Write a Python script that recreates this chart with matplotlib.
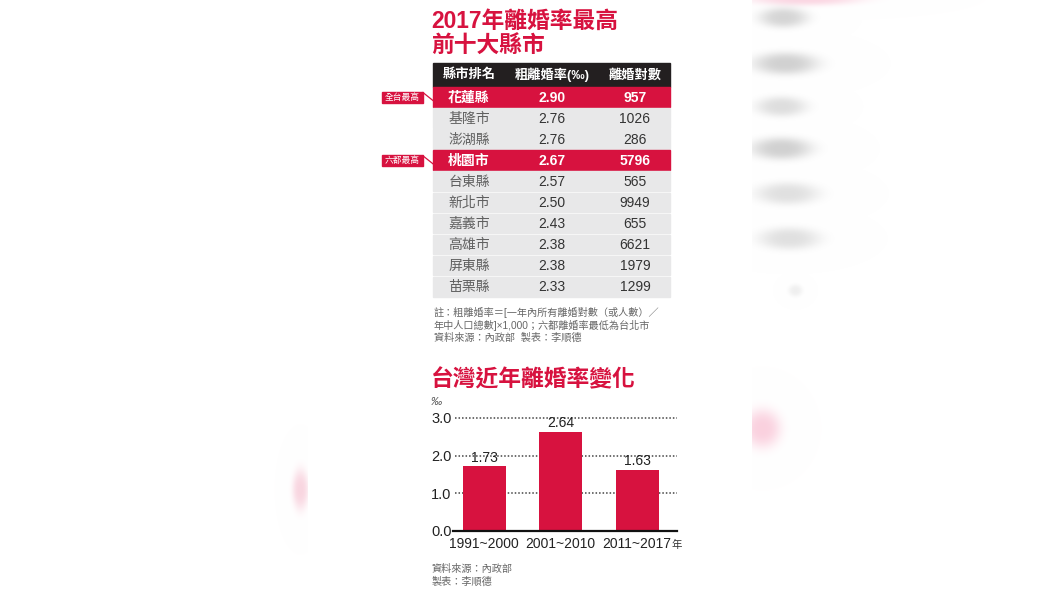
import numpy as np
import matplotlib.pyplot as plt
from matplotlib.patches import Rectangle

plt.rcParams['font.family'] = ['Liberation Sans', 'Noto Sans CJK TC', 'DejaVu Sans']

RED = '#d7123f'
GRAY_ROW = '#e8e8e9'

# table data
counties = ['花蓮縣', '基隆市', '澎湖縣', '桃園市', '台東縣',
            '新北市', '嘉義市', '高雄市', '屏東縣', '苗栗縣']
rates = [2.90, 2.76, 2.76, 2.67, 2.57, 2.50, 2.43, 2.38, 2.38, 2.33]
pairs = [957, 1026, 286, 5796, 565, 9949, 655, 6621, 1979, 1299]
header = ['縣市排名', '粗離婚率(‰)', '離婚對數']
callouts = {0: '全台最高', 3: '六都最高'}

# bar chart data
periods = ['1991~2000', '2001~2010', '2011~2017']
period_rates = [1.73, 2.64, 1.63]
yticks = [0.0, 1.0, 2.0, 3.0]

notes = ['註：粗離婚率＝[一年內所有離婚對數（或人數）／',
         '年中人口總數]×1,000；六都離婚率最低為台北市',
         '資料來源：內政部  製表：李順德']


def blurred_background(ax):
    # soft smudges of the blurred page showing at both sides
    blobs = [
        (783, 17, 24, 10, (0.82, 0.82, 0.82), 0.9),
        (785, 63, 32, 11, (0.80, 0.80, 0.80), 0.9),
        (781, 106, 25, 10, (0.84, 0.84, 0.84), 0.8),
        (781, 148, 30, 11, (0.80, 0.80, 0.80), 0.9),
        (787, 193, 31, 11, (0.85, 0.85, 0.85), 0.8),
        (789, 238, 30, 11, (0.85, 0.85, 0.85), 0.8),
        (795, 290, 7, 6, (0.90, 0.90, 0.90), 0.6),
        (762, 428, 18, 19, (0.98, 0.80, 0.86), 0.9),
        (805, -2, 55, 7, (0.98, 0.80, 0.86), 0.8),
        (300, 489, 8, 20, (0.97, 0.80, 0.85), 0.8),
    ]
    yy, xx = np.mgrid[0:596, 0:1060]
    img = np.ones((596, 1060, 4))
    for cx, cy, sx, sy, col, a in blobs:
        d = ((xx - cx) / sx) ** 2 + ((yy - cy) / sy) ** 2
        alpha = a * np.exp(-d ** 1.5)
        for c in range(3):
            img[..., c] -= alpha * (1 - col[c])
    img[..., :3] = np.clip(img[..., :3], 0, 1)
    # the blurred panels stop sharply at the edges of the graphic strip
    img[:, 308:752, 3] = 0
    ax.imshow(img, extent=(0, 1060, 596, 0), zorder=0, interpolation='nearest')


fig = plt.figure(figsize=(10.6, 5.96), dpi=100)
ax = fig.add_axes([0, 0, 1, 1])
ax.set_xlim(0, 1060)
ax.set_ylim(596, 0)
ax.axis('off')
blurred_background(ax)

# titles
ax.text(431, 21, '2017年離婚率最高', color=RED, fontsize=16.4, fontweight='bold', va='center')
ax.text(431, 46, '前十大縣市', color=RED, fontsize=16.4, fontweight='bold', va='center')

# table
left, right = 433, 670
col_x = [469, 552, 635]
head_top, head_bot = 63, 87
row_h = 21.1
ax.add_patch(Rectangle((left, head_top), right - left, head_bot - head_top,
                       color='#231f20', zorder=2))
for x, h in zip(col_x, header):
    ax.text(x, (head_top + head_bot) / 2, h, color='white', fontsize=9.5,
            fontweight='bold', ha='center', va='center', zorder=3)

for i, (name, r, n) in enumerate(zip(counties, rates, pairs)):
    top = head_bot + i * row_h
    yc = top + row_h / 2
    hot = i in callouts
    ax.add_patch(Rectangle((left, top), right - left, row_h - 1.5,
                           color=RED if hot else GRAY_ROW, zorder=2))
    kw = dict(ha='center', va='center', fontsize=10, zorder=3)
    if hot:
        kw.update(color='white', fontweight='bold')
        ax.text(col_x[0], yc, name, **kw)
        ax.text(col_x[1], yc, f'{r:.2f}', **kw)
        ax.text(col_x[2], yc, str(n), **kw)
        # callout tag on the left
        ax.add_patch(Rectangle((382, yc - 6), 41, 11.5, color=RED, zorder=2))
        ax.text(402.5, yc - 0.3, callouts[i], color='white', fontsize=6.3,
                ha='center', va='center', zorder=3)
        ax.plot([423, 433], [yc - 5, yc + 3], color=RED, lw=0.9, zorder=2)
    else:
        ax.text(col_x[0], yc, name, color='#606060', **kw)
        ax.text(col_x[1], yc, f'{r:.2f}', color='#333333', **kw)
        ax.text(col_x[2], yc, str(n), color='#333333', **kw)

for k, line in enumerate(notes):
    ax.text(434, 312 + k * 13, line, color='#666666', fontsize=7.3, va='center')

# bar chart
ax.text(431, 380, '台灣近年離婚率變化', color=RED, fontsize=16.4, fontweight='bold', va='center')
ax.text(431, 402, '‰', color='#555555', fontsize=8, style='italic', va='center')
ax.text(672, 545, '年', color='#333333', fontsize=7.5, va='center')
ax.text(432, 569, '資料來源：內政部', color='#666666', fontsize=7.3, va='center')
ax.text(432, 582, '製表：李順德', color='#666666', fontsize=7.3, va='center')

bx = fig.add_axes([453 / 1060, 65 / 596, 224 / 1060, 115 / 596])
bx.patch.set_alpha(0)
xs = np.arange(len(periods))
bx.bar(xs, period_rates, width=0.56, color=RED, zorder=2)
for x, v in zip(xs, period_rates):
    bx.text(x, v + 0.03, f'{v:.2f}', ha='center', va='bottom', fontsize=10,
            color='#222222', zorder=3)
for t in yticks[1:]:
    bx.axhline(t, color='#444444', lw=1.1, linestyle=(0, (1, 1.3)), xmin=0.01, zorder=1)
bx.set_xlim(-0.41, 2.52)
bx.set_ylim(0, 3.053)
bx.set_yticks(yticks)
bx.set_yticklabels([f'{t:.1f}' for t in yticks], fontsize=10.5, color='#222222')
bx.set_xticks(xs)
bx.set_xticklabels(periods, fontsize=10, color='#222222')
bx.tick_params(length=0)
bx.tick_params(axis='y', pad=1)
bx.tick_params(axis='x', pad=4)
for s in ['top', 'right', 'left']:
    bx.spines[s].set_visible(False)
bx.spines['bottom'].set_color('#111111')
bx.spines['bottom'].set_linewidth(1.6)

fig.savefig('out.png', dpi=100)
